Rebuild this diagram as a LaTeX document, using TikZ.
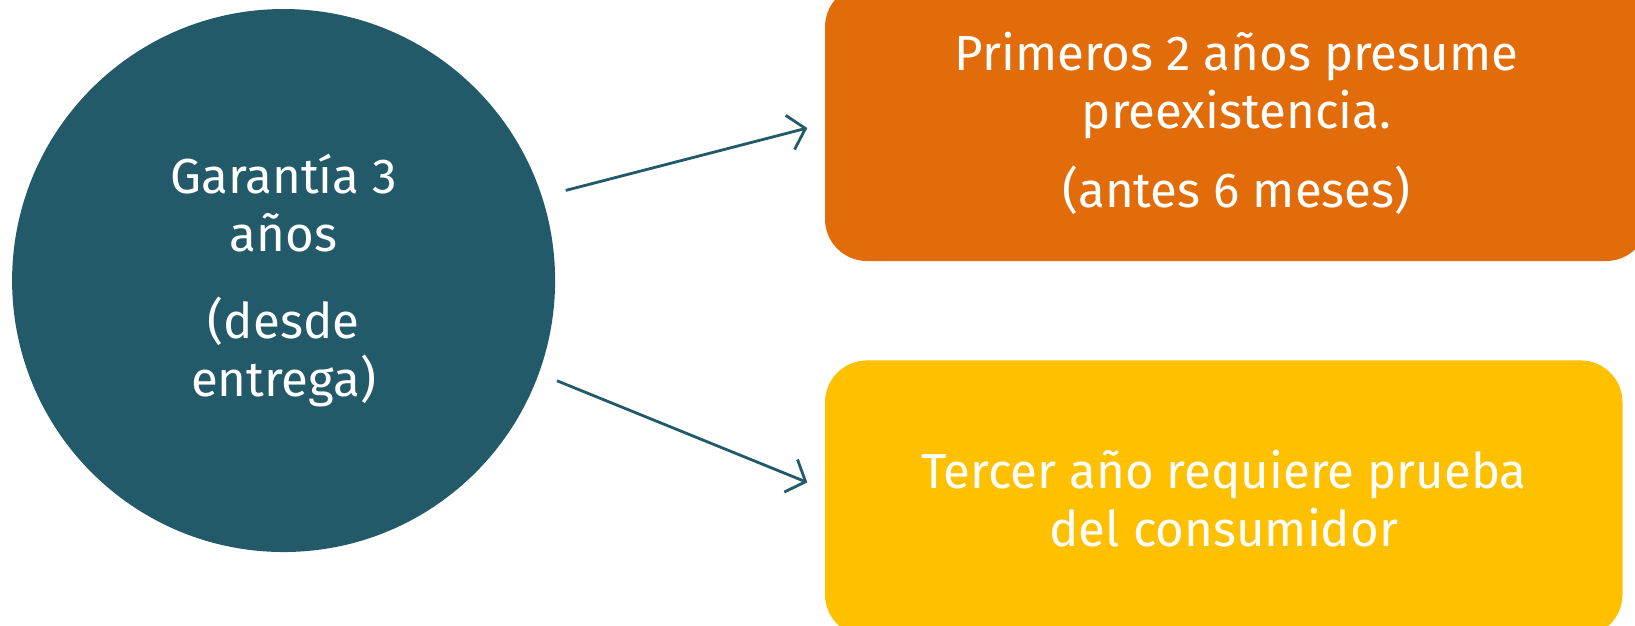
\documentclass[tikz,border=0pt]{standalone}
\usepackage{fontspec}
\setmainfont{Fira Sans}
\usetikzlibrary{positioning,arrows.meta}
\definecolor{tealdark}{HTML}{235A6A}
\definecolor{orangebox}{HTML}{E36C0A}
\definecolor{yellowbox}{HTML}{FFC000}
\tikzset{
  bubble/.style={circle,fill=tealdark,text=white,minimum size=5.43cm,inner sep=0pt,align=center,font=\fontsize{14}{16.5}\selectfont},
  card/.style={rectangle,rounded corners=0.42cm,text=white,minimum width=8.23cm,minimum height=2.76cm,inner sep=0pt,align=center,font=\fontsize{14}{16.5}\selectfont},
  link/.style={draw=tealdark,line width=0.8pt,-{Straight Barb[length=4.5pt,width=10pt]}}
}
\begin{document}
\begin{tikzpicture}
	\useasboundingbox (0,0) rectangle (16.35,-6.25);
	\clip (0,0) rectangle (16.35,-6.25);
	
	\node[bubble] (garantia) at (2.836,-2.805) {Garant\'ia 3\\a\~nos\\[8pt](desde\\entrega)};
	
	\node[card,fill=orangebox] (primeros) at (12.365,-1.23) {Primeros 2 a\~nos presume\\preexistencia.\\[6pt](antes 6 meses)};
	\node[card,fill=yellowbox,minimum width=7.975cm,below right=0.98cm and 0cm of primeros.south west,anchor=north west] (tercer) {Tercer a\~no requiere prueba\\del consumidor};
	
	\draw[link,shorten <=0.24cm] (garantia.18) -- ([shift={(-0.17,-0.05)}]primeros.west);
	\draw[link,shorten <=0.19cm] (garantia.-20) -- ([shift={(-0.17,0.16)}]tercer.west);
\end{tikzpicture}
\end{document}
